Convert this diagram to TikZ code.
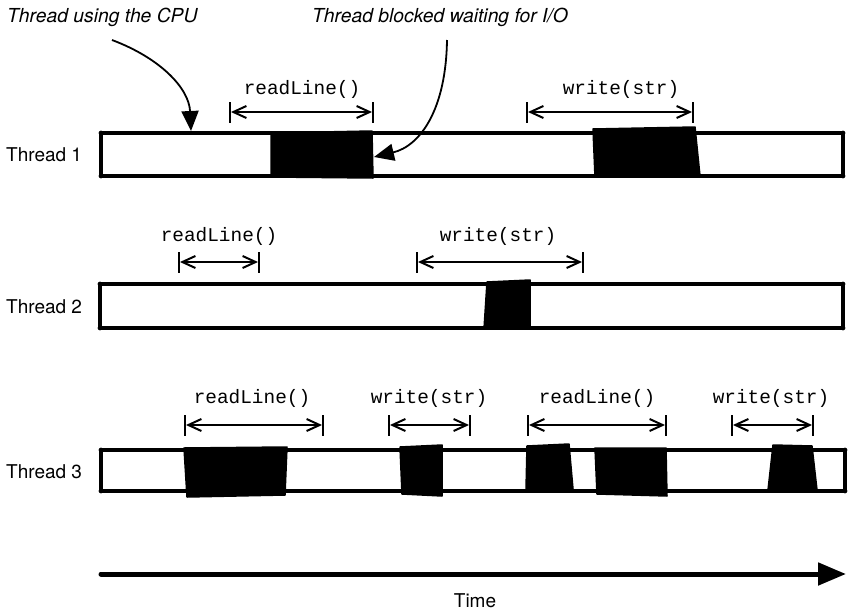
\documentclass[tikz,border=0pt]{standalone}
\usepackage{fontspec}
\setmainfont{TeX Gyre Heros}
\newfontfamily\monofnt{Liberation Mono}
\usetikzlibrary{arrows.meta}
\tikzset{
  x=1pt, y=-1pt,
  barline/.style={line width=4.8pt, line cap=round, line join=round},
  iofill/.style={fill=black, draw=black, line width=1.5pt, line join=round},
  dimtick/.style={line width=2pt},
  dimline/.style={line width=2pt, {Straight Barb[length=13pt,width=12pt,line width=2pt]}-{Straight Barb[length=13pt,width=12pt,line width=2pt]}, shorten <=1pt, shorten >=1pt},
  callarrow/.style={line width=1.8pt, -{Triangle[length=20pt,width=17pt]}},
  timearrow/.style={line width=5pt, line cap=round, -{Triangle[length=28pt,width=22pt]}},
  sanslab/.style={inner sep=0pt, font=\fontsize{19}{22}\selectfont},
  calllab/.style={inner sep=0pt, font=\fontsize{19.3}{22}\selectfont\itshape},
  monolab/.style={inner sep=0pt, font=\fontsize{19.4}{22}\selectfont\monofnt},
}
\newcommand{\dimspan}[4]{%
  \coordinate (#1a) at (#2,#4);
  \coordinate (#1b) at (#3,#4);
  \draw[dimtick] ([yshift=10pt]#1a) -- ([yshift=-11pt]#1a);
  \draw[dimtick] ([yshift=10pt]#1b) -- ([yshift=-11pt]#1b);
  \draw[dimline] (#1a) -- (#1b);
}
\newcommand{\threadbar}[5]{%
  \draw[barline] (#2,#4) -- (#3,#4);
  \draw[barline] (#2,#5) -- (#3,#5);
  \draw[barline] (#2,#4) -- (#2,#5);
  \draw[barline] (#3,#4) -- (#3,#5);
}
\begin{document}
\begin{tikzpicture}
\useasboundingbox (0,0) rectangle (860,616);
\fill[white] (0,0) rectangle (860,616);

% annotations
\node[calllab, anchor=west] (cpu) at (7,17) {Thread using the CPU};
\node[calllab] (blk) at (440,17) {Thread blocked waiting for I/O};
\coordinate (cpuS) at (112,40);
\coordinate (cpuE) at (191,131);
\coordinate (blkS) at (447,40);
\coordinate (blkE) at (374,157);

% ---------- Thread 1 ----------
\node[sanslab, anchor=west] (t1) at (6,155) {Thread 1};
\threadbar{1}{101}{843}{133}{176}
\filldraw[iofill] (271,133) -- (372,131) -- (373,178) -- (271,177) -- cycle;
\filldraw[iofill] (593,129) -- (695,127) -- (700,176) -- (595,177) -- cycle;
\node[monolab] (t1r) at (302,89) {readLine()};
\dimspan{d1}{230}{373}{112}
\node[monolab] (t1w) at (621,89) {write(str)};
\dimspan{d2}{527}{693}{112}

\draw[callarrow] (cpuS) .. controls (160,58) and (189,88) .. (cpuE);
\draw[callarrow] (blkS) .. controls (446,110) and (420,146) .. (blkE);

% ---------- Thread 2 ----------
\node[sanslab, anchor=west] (t2) at (6,307) {Thread 2};
\threadbar{2}{100}{843}{284}{328}
\filldraw[iofill] (487,282) -- (530,280) -- (530,328) -- (484,329) -- cycle;
\node[monolab] (t2r) at (219,236) {readLine()};
\dimspan{d3}{179}{259}{262}
\node[monolab] (t2w) at (498,236) {write(str)};
\dimspan{d4}{417}{583}{262}

% ---------- Thread 3 ----------
\node[sanslab, anchor=west] (t3) at (6,472) {Thread 3};
\threadbar{3}{101}{845}{450}{491}
\filldraw[iofill] (184,448) -- (287,447) -- (285,495) -- (187,497) -- cycle;
\filldraw[iofill] (400,447) -- (442,445) -- (442,496) -- (402,494) -- cycle;
\filldraw[iofill] (527,446) -- (569,444) -- (573,489) -- (526,490) -- cycle;
\filldraw[iofill] (595,448) -- (666,448) -- (667,496) -- (597,494) -- cycle;
\filldraw[iofill] (773,445) -- (812,446) -- (817,490) -- (768,490) -- cycle;
\node[monolab] (t3r1) at (252,398) {readLine()};
\dimspan{d5}{185}{323}{425}
\node[monolab] (t3w1) at (429,398) {write(str)};
\dimspan{d6}{389}{470}{425}
\node[monolab] (t3r2) at (597,398) {readLine()};
\dimspan{d7}{528}{666}{425}
\node[monolab] (t3w2) at (771,398) {write(str)};
\dimspan{d8}{732}{813}{425}

% ---------- Time ----------
\coordinate (tS) at (101,574);
\coordinate (tE) at (846,574);
\draw[timearrow] (tS) -- (tE);
\node[sanslab] (time) at (475,601) {Time};
\end{tikzpicture}
\end{document}
